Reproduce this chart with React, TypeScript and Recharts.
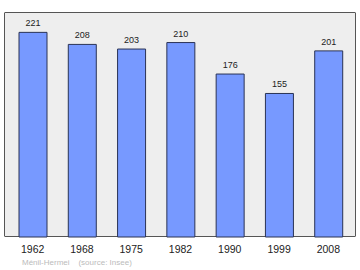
import React from "react";
import { BarChart, Bar, XAxis, YAxis, LabelList } from "recharts";

const years = ["1962", "1968", "1975", "1982", "1990", "1999", "2008"];
const population = [221, 208, 203, 210, 176, 155, 201];
const placeName = "Ménil-Hermei";
const sourceText = "(source: Insee)";

const data = years.map((y, i) => ({ year: y, pop: population[i] }));

export default function App() {
  return (
    <div style={{ position: "absolute", left: 0, top: 0, width: 360, height: 270, background: "#fff" }}>
      <div
        style={{
          position: "absolute",
          left: 4,
          top: 12,
          width: 350,
          height: 223,
          border: "1px solid #555",
          background: "#eeeeee",
          borderRadius: 1,
        }}
      />
      <div style={{ position: "absolute", left: 0, top: 0 }}>
        <BarChart
          width={360}
          height={270}
          data={data}
          margin={{ top: 12, right: 4, left: 4, bottom: 0 }}
          barCategoryGap={0}
        >
          <XAxis
            dataKey="year"
            height={33}
            axisLine={false}
            tickLine={false}
            tickMargin={3}
            interval={0}
            padding={{ left: 4, right: 3 }}
            tick={{ fill: "#222", fontSize: 10.5, fontFamily: "Liberation Sans, Arial, sans-serif" }}
          />
          <YAxis hide domain={[0, 243]} />
          <Bar
            dataKey="pop"
            barSize={28}
            fill="#7799ff"
            stroke="#2a3355"
            strokeWidth={1}
            isAnimationActive={false}
          >
            <LabelList
              dataKey="pop"
              position="top"
              offset={6}
              fill="#222"
              fontSize={9}
              fontFamily="Liberation Sans, Arial, sans-serif"
            />
          </Bar>
        </BarChart>
      </div>
      <div
        style={{
          position: "absolute",
          left: 22,
          top: 258,
          fontSize: 8,
          color: "#bbbbbb",
          fontFamily: "Liberation Sans, Arial, sans-serif",
          whiteSpace: "pre",
          lineHeight: "10px",
        }}
      >
        {placeName + "    " + sourceText}
      </div>
    </div>
  );
}
